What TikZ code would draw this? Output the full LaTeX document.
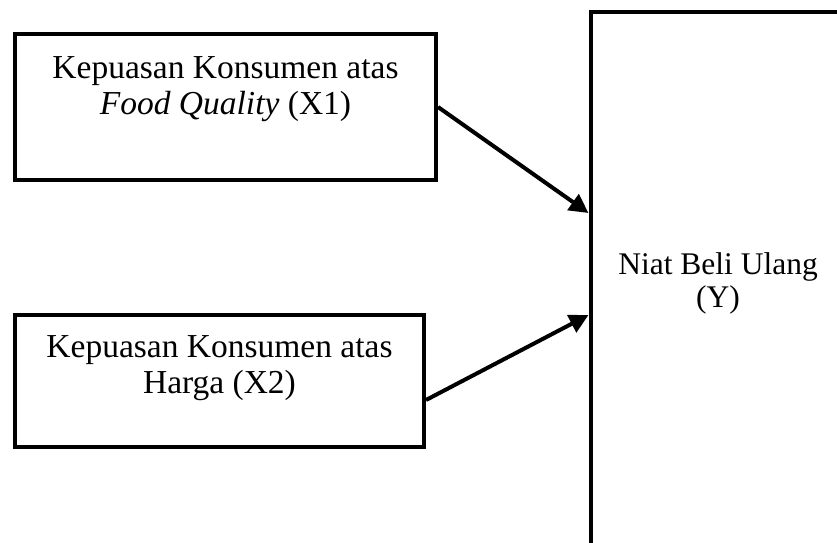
\documentclass[tikz,border=0pt]{standalone}
\usepackage{fontspec}
\setmainfont{Liberation Serif}
\usetikzlibrary{arrows.meta,positioning}

\begin{document}
\begin{tikzpicture}[x=1pt,y=1pt,>={Triangle[length=19pt,width=19pt]},
    box/.style={draw,line width=4pt,inner sep=0pt},
    lbl/.style={align=center,inner sep=0pt,font=\fontsize{33.5}{36}\selectfont}]
  \useasboundingbox (0,0) rectangle (837,-542);
  \clip (0,0) rectangle (837,-542);
  % left boxes
  \node[box,minimum width=421pt,minimum height=146pt] (x1) at (225.5,-107) {};
  \node[lbl,below=24pt of x1.north] (t1) {Kepuasan Konsumen atas\\\textit{Food Quality} (X1)};
  \node[box,minimum width=409pt,minimum height=132pt] (x2) at (219.5,-381) {};
  \node[lbl,below=22pt of x2.north] (t2) {Kepuasan Konsumen atas\\Harga (X2)};
  % dependent variable
  \node[box,minimum width=255pt,minimum height=543.5pt,align=center,font=\fontsize{31.5}{33}\selectfont] (y) at (718,-283.5) {Niat Beli Ulang\\(Y)};
  \draw[->,line width=4pt] (x1.east) -- ([yshift=70.5pt]y.west);
  \draw[->,line width=4pt] ([yshift=-19pt]x2.east) -- ([yshift=-31.5pt]y.west);
\end{tikzpicture}
\end{document}
